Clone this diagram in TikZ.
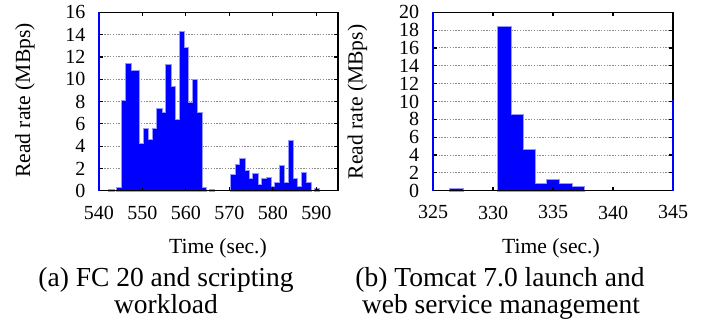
\documentclass[tikz,border=0pt]{standalone}
\usepackage{fontspec}
\setmainfont{Liberation Serif}
\usepackage{xcolor}
\definecolor{barfill}{RGB}{0, 0, 255}
\definecolor{baredge}{RGB}{150, 150, 255}
\definecolor{gridline}{RGB}{140, 140, 140}
\tikzset{
  barhalo/.style={draw=baredge, line width=1pt},
  barsolid/.style={fill=barfill},
  gridrule/.style={color=gridline, line width=0.5pt, dash pattern=on 0.7pt off 0.7pt},
  plotframe/.style={color=black, line width=0.6pt},
  leftaxis/.style={color=barfill, line width=0.8pt},
  ticklbl/.style={font=\fontsize{10}{12}\selectfont, inner sep=0pt},
  axistitle/.style={font=\fontsize{10.8}{13}\selectfont, inner sep=0pt},
  capline/.style={font=\fontsize{13.75}{16}\selectfont, anchor=base, inner sep=0pt}
}

\begin{document}
\begin{tikzpicture}[x=0.5pt, y=-0.5pt]
  \useasboundingbox (0,0) rectangle (711,322);

  % (a) FC 20
  \begin{scope}[shift={(98.8,190.7)}, x=2.175pt, y=5.575pt]
    \foreach \g in {2,4,...,14} \draw[gridrule] (0,\g) -- (55,\g);
    \foreach \s in {barhalo,barsolid}{
      \foreach \h [count=\i from 0] in {0.27,8.06,11.4,10.7,10.7,4.2,5.55,4.57,5.52,7.34,6.98,11.3,9.34,6.33,14.2,12.8,7.88,9.91,6.98,0.2}
        \path[\s] (4.23+\i*1.023,0) rectangle ++(1.023,\h);
      \foreach \h [count=\i from 0] in {1.43,2.3,2.87,1.79,1.01,1.49,0.51,1.01,1.16,0.33,0.66,2.24,0.69,4.42,1.01,0.36,1.55,0.66}
        \path[\s] (30.46+\i*1.014,0) rectangle ++(1.014,\h);
      \path[\s] (2.3,0) rectangle ++(1.1,0.1);
      \path[\s] (25.5,0) rectangle ++(1.0,0.1);
      \path[\s] (49.6,0) rectangle ++(1.0,0.12);
    }
    \draw[plotframe] (0,0) rectangle (55,16);
    \foreach \t in {540,550,...,590}{
      \draw[plotframe] (\t-540,0) -- ++(0,0.36);
      \draw[plotframe] (\t-540,16) -- ++(0,-0.36);
      \node[ticklbl, below=7.3pt] (xa\t) at (\t-540,0) {\t};
    }
    \foreach \v in {0,2,...,16}{
      \draw[plotframe] (0,\v) -- ++(0.92,0);
      \draw[plotframe] (55,\v) -- ++(-0.92,0);
      \node[ticklbl, left=6.5pt] (ya\v) at (0,\v) {\v};
    }
    \draw[leftaxis] (0,0) -- (0,16);
  \end{scope}

  % (b) Tomcat 7.0
  \begin{scope}[shift={(433,190.7)}, x=6pt, y=4.46pt]
    \foreach \g in {2,4,...,18} \draw[gridrule] (0,\g) -- (20,\g);
    \foreach \s in {barhalo,barsolid}{
      \foreach \h [count=\i from 0] in {18.4,8.49,4.6,0.71,1.16,0.75,0.41}
        \path[\s] (5.44+\i*1.02,0) rectangle ++(1.02,\h);
      \path[\s] (1.44,0) rectangle ++(1.06,0.15);
    }
    \draw[plotframe] (0,0) rectangle (20,20);
    \foreach \t in {325,330,...,345}{
      \draw[plotframe] (\t-325,0) -- ++(0,0.45);
      \draw[plotframe] (\t-325,20) -- ++(0,-0.45);
      \node[ticklbl, below=7.3pt] (xb\t) at (\t-325,0) {\t};
    }
    \foreach \v in {0,2,...,20}{
      \draw[plotframe] (0,\v) -- ++(0.33,0);
      \draw[plotframe] (20,\v) -- ++(-0.33,0);
      \node[ticklbl, left=6.7pt] (yb\v) at (0,\v) {\v};
    }
    \draw[leftaxis] (0,0) -- (0,20);
    \draw[color=barfill, line width=1pt] (20,0) -- (20,10.2);
  \end{scope}

  \node[axistitle, rotate=90] (ytA) at (25,100.5) {Read rate (MBps)};
  \node[axistitle, rotate=90] (ytB) at (357.5,102) {Read rate (MBps)};
  \node[axistitle, anchor=base] (xtA) at (218,253) {Time (sec.)};
  \node[axistitle, anchor=base] (xtB) at (551,253) {Time (sec.)};

  \node[capline] (capA1) at (166,286) {(a) FC 20 and scripting};
  \node[capline] (capA2) at (166,313) {workload};
  \node[capline] (capB1) at (500,286) {(b) Tomcat 7.0 launch and};
  \node[capline] (capB2) at (501,313) {web service management};
\end{tikzpicture}
\end{document}
